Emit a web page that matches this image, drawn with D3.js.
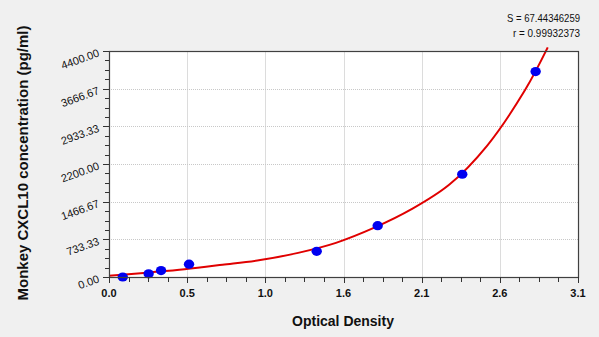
<!DOCTYPE html>
<html><head><meta charset="utf-8">
<script src="https://cdn.jsdelivr.net/npm/d3@7/dist/d3.min.js"></script>
<style>
html,body{margin:0;padding:0;background:#f0f0f0;}
svg{display:block;font-family:"Liberation Sans",Arial,sans-serif;}
</style></head><body>
<svg id="c" width="599" height="337"></svg>
<script>
// Data
const od = [0.091, 0.262, 0.344, 0.529, 1.373, 1.776, 2.335, 2.820];
const conc = [0, 62.5, 125, 250, 500, 1000, 2000, 4000];
// fitted curve
const curveOD = [0, 0.25, 0.5, 0.75, 1.0, 1.25, 1.5, 1.75, 2.0, 2.25, 2.5, 2.75, 2.9];
const curveConc = [22, 85, 152, 238, 330, 470, 665, 955, 1320, 1800, 2560, 3640, 4470];
const xTickLabels = ["0.0","0.5","1.0","1.6","2.1","2.6","3.1"];
const yTickLabels = ["0.00","733.33","1466.67","2200.00","2933.33","3666.67","4400.00"];
const statS = "S = 67.44346259";
const statR = "r = 0.99932373";
const xTitle = "Optical Density";
const yTitle = "Monkey CXCL10 concentration (pg/ml)";

const svg = d3.select("#c");
const L = 109, R = 578, T = 51, B = 277;
const xMax = 3.1, yMax = 4400;
const x = d3.scaleLinear().domain([0, xMax]).range([L, R]);
const y = d3.scaleLinear().domain([0, yMax]).range([B, T]);

// plot background
svg.append("rect").attr("x", L).attr("y", T).attr("width", R - L).attr("height", B - T).attr("fill", "#fff");

const xMajors = d3.range(7).map(i => i * xMax / 6);
const yMajors = d3.range(7).map(i => i * yMax / 6);
const xMinors = d3.range(25).map(i => i * xMax / 24);
const yMinors = d3.range(25).map(i => i * yMax / 24);

// grid
svg.append("g").selectAll("line").data(xMajors.slice(1, -1)).join("line")
  .attr("x1", d => Math.round(x(d)) + 0.5).attr("x2", d => Math.round(x(d)) + 0.5).attr("y1", T).attr("y2", B)
  .attr("stroke", "#dcdcdc").attr("stroke-width", 1);
svg.append("g").selectAll("line").data(yMajors.slice(1, -1)).join("line")
  .attr("x1", L).attr("x2", R).attr("y1", d => Math.round(y(d)) + 0.5).attr("y2", d => Math.round(y(d)) + 0.5)
  .attr("stroke", "#c8c8c8").attr("stroke-width", 1).attr("stroke-dasharray", "1,1");

// fitted curve
svg.append("path").datum(curveOD.map((v, i) => [v, curveConc[i]]))
  .attr("d", d3.line().x(d => x(d[0])).y(d => y(d[1])).curve(d3.curveCatmullRom.alpha(0.5)))
  .attr("fill", "none").attr("stroke", "#e00000").attr("stroke-width", 2);

// points
svg.append("g").selectAll("ellipse").data(od.map((v, i) => [v, conc[i]])).join("ellipse")
  .attr("cx", d => x(d[0])).attr("cy", d => y(d[1])).attr("rx", 5.2).attr("ry", 4.6)
  .attr("fill", "#0000f0");

// frame
svg.append("rect").attr("x", L + 0.5).attr("y", T + 0.5).attr("width", R - L).attr("height", B - T)
  .attr("fill", "none").attr("stroke", "#404040").attr("stroke-width", 1.2);

// y ticks
svg.append("g").selectAll("line").data(yMinors).join("line")
  .attr("x1", d => yMajors.some(m => Math.abs(m - d) < 1e-6) ? L - 6 : L - 4).attr("x2", L)
  .attr("y1", d => Math.round(y(d)) + 0.5).attr("y2", d => Math.round(y(d)) + 0.5)
  .attr("stroke", "#333").attr("stroke-width", 1);
// x ticks
svg.append("g").selectAll("line").data(xMinors).join("line")
  .attr("x1", d => Math.round(x(d)) + 0.5).attr("x2", d => Math.round(x(d)) + 0.5)
  .attr("y1", B).attr("y2", d => xMajors.some(m => Math.abs(m - d) < 1e-6) ? B + 6 : B + 5)
  .attr("stroke", "#333").attr("stroke-width", 1);

// y tick labels (rotated)
svg.append("g").selectAll("text").data(yMajors).join("text")
  .attr("transform", d => `translate(${L - 9},${y(d) + 5}) rotate(-20)`)
  .attr("text-anchor", "end").attr("font-size", 11).attr("fill", "#111")
  .text((d, i) => yTickLabels[i]);
// x tick labels
svg.append("g").selectAll("text").data(xMajors).join("text")
  .attr("x", d => x(d)).attr("y", B + 20).attr("text-anchor", "middle")
  .attr("font-size", 11).attr("font-weight", "bold").attr("fill", "#111")
  .text((d, i) => xTickLabels[i]);

// titles
svg.append("text").attr("x", 343).attr("y", 326).attr("text-anchor", "middle")
  .attr("font-size", 14).attr("font-weight", "bold").attr("fill", "#111").text(xTitle);
svg.append("text").attr("transform", "translate(28,163) rotate(-90)").attr("text-anchor", "middle")
  .attr("font-size", 15).attr("font-weight", "bold").attr("fill", "#111").text(yTitle);

// stats
svg.append("text").attr("x", 580).attr("y", 22).attr("text-anchor", "end").attr("font-size", 11)
  .attr("textLength", 73).attr("lengthAdjust", "spacingAndGlyphs").attr("fill", "#111").text(statS);
svg.append("text").attr("x", 580).attr("y", 37).attr("text-anchor", "end").attr("font-size", 11)
  .attr("textLength", 67).attr("lengthAdjust", "spacingAndGlyphs").attr("fill", "#111").text(statR);
</script>
</body></html>
